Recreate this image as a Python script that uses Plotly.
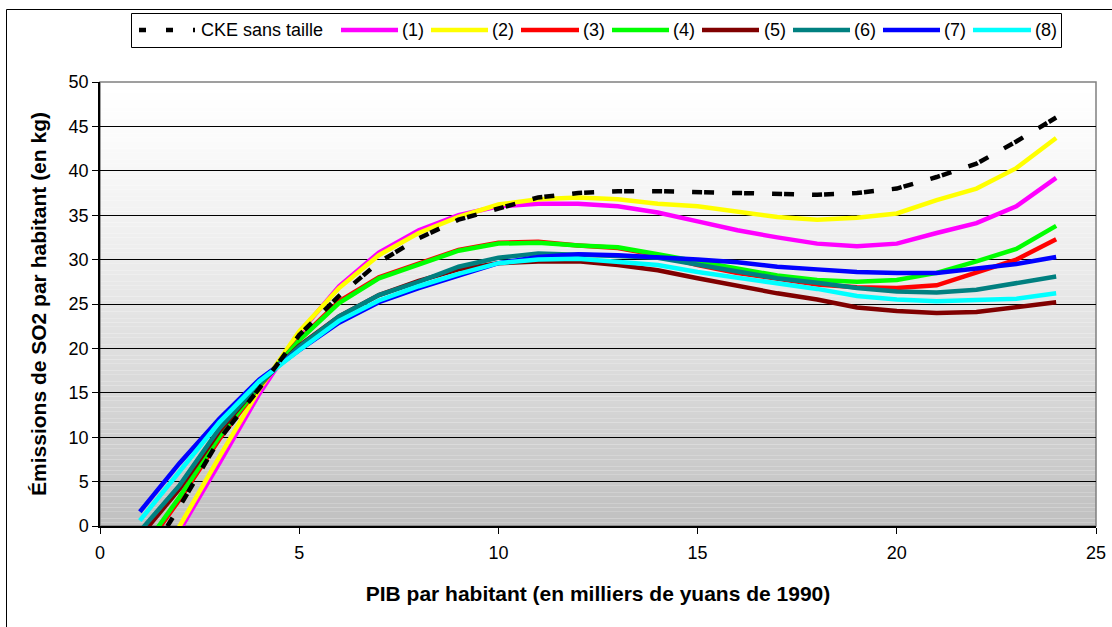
import plotly.graph_objects as go

# ---------------- data ----------------
x_gdp = [1, 2, 3, 4, 5, 6, 7, 8, 9, 10, 11, 12, 13, 14, 15, 16, 17, 18, 19, 20, 21, 22, 23, 24]

cke_sans_taille = [-5.0, 2.2, 9.8, 15.5, 21.5, 25.9, 29.7, 32.4, 34.5, 35.8, 37.0, 37.5,
                   37.7, 37.7, 37.6, 37.5, 37.3, 37.3, 37.5, 38.0, 39.3, 40.8, 43.3, 46.0]
serie_1 = [-7.5, -0.5, 7.1, 14.9, 21.7, 27.0, 30.8, 33.3, 35.0, 36.0, 36.3, 36.3,
           36.0, 35.3, 34.3, 33.3, 32.5, 31.8, 31.5, 31.8, 33.0, 34.1, 36.0, 39.2]
serie_2 = [-7.0, 0.0, 7.8, 15.4, 21.9, 26.8, 30.5, 33.0, 34.8, 36.2, 36.8, 37.0,
           36.8, 36.3, 36.0, 35.4, 34.8, 34.5, 34.7, 35.2, 36.7, 38.0, 40.3, 43.7]
serie_3 = [-3.3, 3.0, 9.8, 15.7, 21.0, 25.3, 28.0, 29.6, 31.1, 31.9, 32.0, 31.6,
           31.3, 30.5, 29.4, 28.5, 27.8, 27.2, 26.9, 26.8, 27.1, 28.6, 30.0, 32.3]
serie_4 = [-3.0, 3.3, 10.1, 15.8, 20.9, 25.1, 27.9, 29.5, 31.0, 31.8, 31.9, 31.6,
           31.4, 30.6, 29.8, 28.9, 28.2, 27.7, 27.5, 27.7, 28.5, 29.8, 31.2, 33.8]
serie_5 = [-1.2, 4.2, 10.7, 16.0, 20.3, 23.6, 26.0, 27.6, 28.9, 29.6, 29.8, 29.8,
           29.4, 28.8, 27.9, 27.0, 26.2, 25.5, 24.6, 24.2, 24.0, 24.1, 24.6, 25.2]
serie_6 = [-0.6, 4.6, 11.0, 16.0, 20.2, 23.6, 26.0, 27.5, 29.2, 30.2, 30.7, 30.6,
           30.4, 30.2, 29.4, 28.6, 27.9, 27.4, 26.8, 26.4, 26.3, 26.6, 27.3, 28.1]
serie_7 = [1.6, 7.1, 12.1, 16.5, 19.8, 22.9, 25.2, 26.8, 28.2, 29.6, 30.3, 30.6,
           30.5, 30.3, 30.0, 29.7, 29.2, 28.9, 28.6, 28.5, 28.5, 29.0, 29.5, 30.3]
serie_8 = [0.6, 6.1, 11.7, 16.3, 19.8, 23.1, 25.4, 27.0, 28.4, 29.6, 30.0, 30.1,
           29.8, 29.4, 28.6, 28.0, 27.3, 26.7, 25.9, 25.5, 25.3, 25.4, 25.6, 26.2]

series_names = ["CKE sans taille", "(1)", "(2)", "(3)", "(4)", "(5)", "(6)", "(7)", "(8)"]
series_values = [cke_sans_taille, serie_1, serie_2, serie_3, serie_4,
                 serie_5, serie_6, serie_7, serie_8]

x_tick_vals = [0, 5, 10, 15, 20, 25]
y_tick_vals = [0, 5, 10, 15, 20, 25, 30, 35, 40, 45, 50]

x_title = "PIB par habitant (en milliers de yuans de 1990)"
y_title = "Émissions de SO2 par habitant (en kg)"

# ---------------- styling ----------------
colors = ["#000000", "#FF00FF", "#FFFF00", "#FF0000", "#00FF00",
          "#800000", "#008080", "#0000FF", "#00FFFF"]
FONT = "Arial, Liberation Sans, sans-serif"

W, H = 1112, 627
L, R, T, B = 100, 1096, 82, 526


def pxx(px):
    return (px - L) / (R - L)


def pxy(py):
    return (B - py) / (B - T)


fig = go.Figure()

# coloured series first (series 1 at the bottom), dashed CKE on top
for i in range(1, 9):
    fig.add_trace(go.Scatter(
        x=x_gdp, y=series_values[i], name=series_names[i], mode="lines",
        line=dict(color=colors[i], width=4.5), showlegend=False,
        hoverinfo="skip"))
fig.add_trace(go.Scatter(
    x=x_gdp, y=series_values[0], name=series_names[0], mode="lines",
    line=dict(color=colors[0], width=4.5, dash="10px,2px,10px,18px"),
    showlegend=False, hoverinfo="skip"))

shapes = []
# gradient background of the plot area (white at top -> grey at bottom)
N = 120
for k in range(N):
    y0 = k / N
    y1 = (k + 1) / N
    f = 1 - (y0 + y1) / 2  # 0 at top, 1 at bottom
    g = int(round(255 - 63 * f ** 1.3))
    shapes.append(dict(type="rect", xref="paper", yref="paper", x0=0, x1=1,
                       y0=y0, y1=y1, line=dict(width=0),
                       fillcolor=f"rgb({g},{g},{g})", layer="below"))
# grey frame of plot area (top/right)
shapes.append(dict(type="rect", xref="paper", yref="paper", x0=0, x1=1, y0=0, y1=1,
                   line=dict(color="#808080", width=1.5), layer="between"))
# outer chart border
shapes.append(dict(type="rect", xref="paper", yref="paper",
                   x0=pxx(6.5), x1=pxx(1125), y0=pxy(640), y1=pxy(9.5),
                   line=dict(color="#000000", width=1), layer="below"))

# ---------------- manual legend ----------------
shapes.append(dict(type="rect", xref="paper", yref="paper",
                   x0=pxx(131.5), x1=pxx(1061.5), y0=pxy(47.5), y1=pxy(13.5),
                   line=dict(color="#000000", width=1), fillcolor="#FFFFFF",
                   layer="above"))
leg_y = 30
sym_x0 = [139, 341, 431, 521, 612, 702, 793, 883, 973]
sym_x1 = [195, 398, 488, 579, 669, 759, 850, 940, 1031]
txt_x = [199, 400, 490, 581, 671, 762, 852, 942, 1033]
annotations = []
for i in range(9):
    shapes.append(dict(type="line", xref="paper", yref="paper",
                       x0=pxx(sym_x0[i]), x1=pxx(sym_x1[i]),
                       y0=pxy(leg_y), y1=pxy(leg_y),
                       line=dict(color=colors[i], width=4.5,
                                 dash="7px,20px" if i == 0 else "solid"),
                       layer="above"))
    annotations.append(dict(text=series_names[i], xref="paper", yref="paper",
                            x=pxx(txt_x[i]), y=pxy(leg_y), xanchor="left",
                            yanchor="middle", showarrow=False,
                            font=dict(family=FONT, size=18, color="#000000")))

fig.update_layout(
    width=W, height=H, autosize=False,
    margin=dict(l=L, r=W - R, t=T, b=H - B, pad=0),
    paper_bgcolor="#FFFFFF", plot_bgcolor="#FFFFFF",
    shapes=shapes, annotations=annotations, showlegend=False,
    font=dict(family=FONT, size=18, color="#000000"),
)
fig.update_xaxes(
    range=[0, 25], tickvals=x_tick_vals, ticks="outside", ticklen=6,
    tickcolor="#000000", showline=True, linecolor="#000000", linewidth=1.5,
    showgrid=False, zeroline=False, tickfont=dict(size=18), ticklabelstandoff=4,
    title=dict(text=x_title, standoff=24,
               font=dict(size=21, weight="bold", family=FONT)),
    automargin=False)
fig.update_yaxes(
    range=[0, 50], tickvals=y_tick_vals, ticks="outside", ticklen=6,
    tickcolor="#000000", showline=True, linecolor="#000000", linewidth=1.5,
    showgrid=True, gridcolor="#000000", gridwidth=1, zeroline=False,
    tickfont=dict(size=18),
    title=dict(text=y_title, standoff=16,
               font=dict(size=21, weight="bold", family=FONT)),
    automargin=False)

fig.write_html(
    "out.html",
    config={"displayModeBar": False},
    post_script="document.body.style.margin='0px';"
                "document.body.style.overflow='hidden';")
